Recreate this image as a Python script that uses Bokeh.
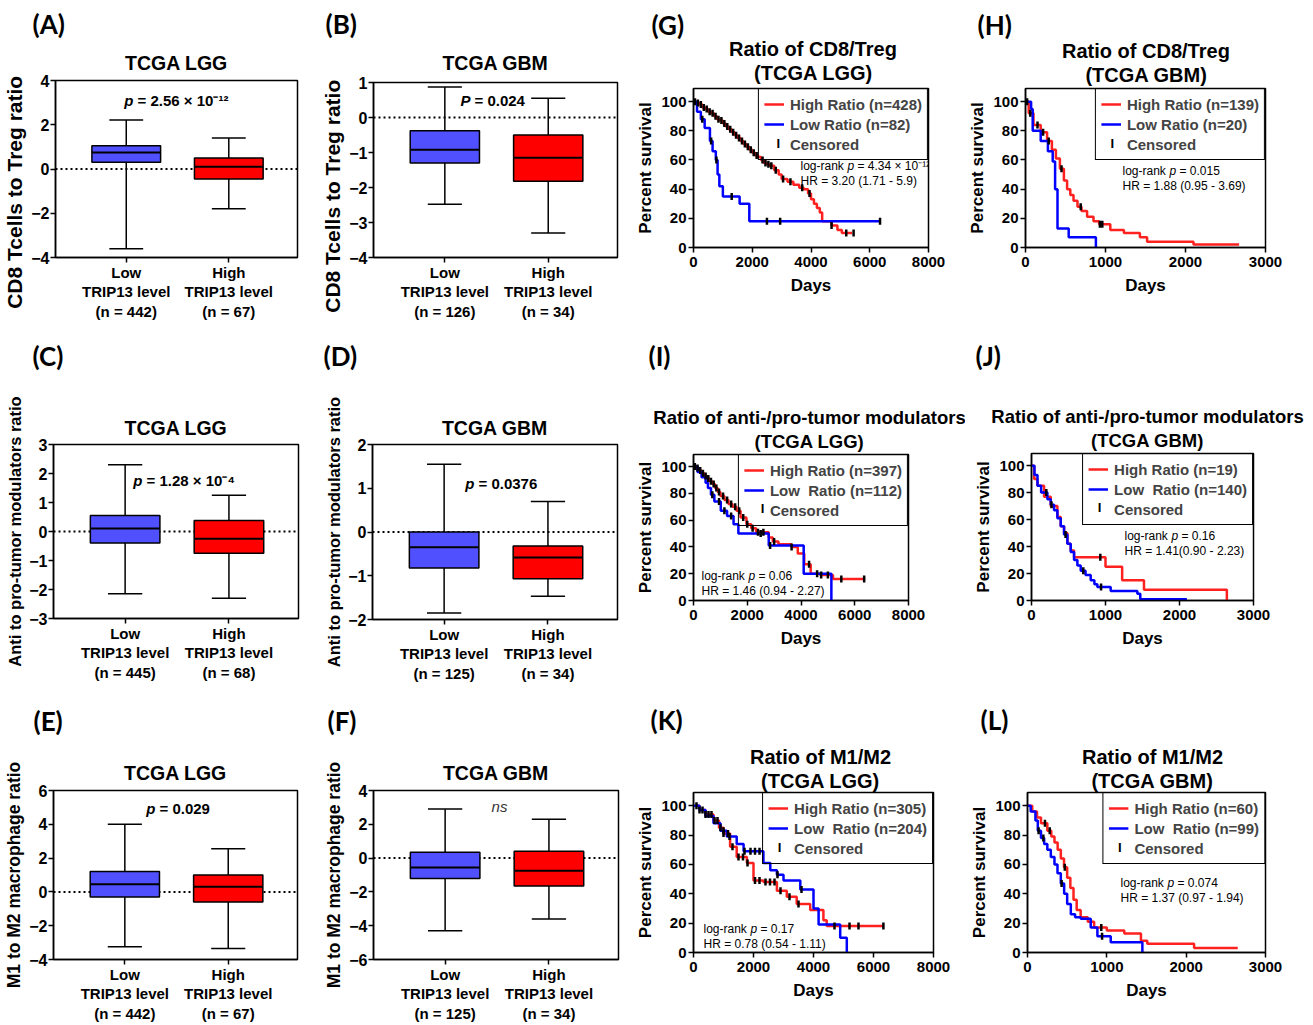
import numpy as np
from bokeh.plotting import figure
from bokeh.models import Range1d, FixedTicker, Span, Label, Legend, LegendItem, Title
from bokeh.layouts import row, column
from bokeh.embed import file_html
from bokeh.resources import INLINE

# ---------------- box-plot data: [lower whisker, Q1, median, Q3, upper whisker] ----------------
group_labels = ["Low", "High"]

A_low = [-3.60, 0.30, 0.75, 1.05, 2.22]
A_high = [-1.80, -0.45, 0.10, 0.50, 1.40]
A_n = [442, 67]
A_yticks = [-4, -2, 0, 2, 4]

B_low = [-2.48, -1.30, -0.92, -0.38, 0.87]
B_high = [-3.30, -1.82, -1.15, -0.50, 0.55]
B_n = [126, 34]
B_yticks = [-4, -3, -2, -1, 0, 1]

C_low = [-2.15, -0.40, 0.10, 0.55, 2.30]
C_high = [-2.30, -0.75, -0.25, 0.38, 1.25]
C_n = [445, 68]
C_yticks = [-3, -2, -1, 0, 1, 2, 3]

D_low = [-1.85, -0.82, -0.35, 0.00, 1.55]
D_high = [-1.47, -1.07, -0.58, -0.32, 0.70]
D_n = [125, 34]
D_yticks = [-2, -1, 0, 1, 2]

E_low = [-3.25, -0.30, 0.45, 1.20, 4.00]
E_high = [-3.35, -0.60, 0.30, 1.00, 2.55]
E_n = [442, 67]
E_yticks = [-4, -2, 0, 2, 4, 6]

F_low = [-4.30, -1.20, -0.55, 0.35, 2.90]
F_high = [-3.60, -1.65, -0.75, 0.40, 2.30]
F_n = [125, 34]
F_yticks = [-6, -4, -2, 0, 2, 4]

# ---------------- Kaplan-Meier data (days, percent survival, censored days) ----------------
G_high_t = [0, 100, 200, 300, 400, 500, 600, 700, 800, 900, 1000, 1100, 1200, 1300, 1400, 1500, 1600, 1700, 1800, 1900,
            2000, 2100, 2200, 2300, 2400, 2500, 2600, 2750, 2900, 3000, 3200, 3400, 3600, 3750, 3900, 4000, 4100, 4200,
            4300, 4380, 4700, 4900, 5050, 5400]
G_high_s = [100, 99, 98, 96, 95, 93, 92, 90, 88, 87, 85, 83, 81, 79, 77, 75, 73, 71, 69, 67,
            65, 63, 62, 60, 58, 57, 56, 53, 50, 47, 45, 43, 41, 40, 37, 33, 30, 27,
            24, 18, 15, 12, 10, 10]
G_high_c = [50, 150, 250, 350, 450, 550, 650, 750, 850, 950, 1050, 1150, 1250, 1350, 1450, 1550, 1650, 1750, 1850,
            1950, 2050, 2150, 2350, 2450, 2550, 2650, 2800, 3050, 3300, 3700, 3950, 4700, 5200, 5450]
G_low_t = [0, 120, 250, 380, 560, 650, 760, 820, 880, 1000, 1570, 1900, 6350]
G_low_s = [100, 93, 88, 82, 73, 66, 60, 50, 42, 35, 30, 18, 18]
G_low_c = [300, 600, 780, 1300, 2500, 2950, 6350]
G_n = [428, 82]

H_high_t = [0, 40, 100, 190, 270, 330, 380, 430, 480, 520, 560, 600, 650, 700, 770, 850, 920, 1060, 1230, 1430,
            1520, 2100, 2670]
H_high_s = [100, 92, 84, 79, 73, 67, 61, 54, 46, 40, 36, 32, 28, 25, 21, 18, 16, 12, 10, 7, 4, 2, 2]
H_high_c = [20, 60, 150, 220, 290, 450, 690, 930, 960]
H_low_t = [0, 70, 90, 190, 280, 340, 370, 400, 540, 880]
H_low_s = [100, 95, 80, 73, 66, 59, 40, 13, 7, 0]
H_low_c = []
H_n = [139, 20]

I_high_t = [0, 100, 200, 300, 400, 500, 600, 700, 800, 900, 1000, 1150, 1300, 1450, 1600, 1750, 1970, 2150, 2330,
            2800, 2950, 3160, 3640, 3880, 4120, 4360, 4716, 5190, 6390]
I_high_s = [100, 99, 97, 95, 93, 91, 89, 87, 84, 81, 78, 75, 72, 70, 67, 62, 57, 54, 51,
            47, 44, 42, 40, 35, 27, 20, 19, 16, 16]
I_high_c = [50, 150, 250, 350, 450, 550, 650, 750, 850, 950, 1100, 1250, 1400, 1550, 1700, 1850, 2000, 2200, 2400,
            2600, 3000, 3650, 4300, 4750, 5000, 5500, 6350]
I_low_t = [0, 150, 300, 450, 537, 650, 776, 1015, 1250, 1490, 1670, 2800, 4100, 5130]
I_low_s = [100, 96, 92, 88, 84, 79, 74, 67, 63, 57, 50, 41, 20, 0]
I_low_c = [700, 950, 1150, 1400, 2500, 2850, 4600]
I_n = [397, 112]

J_high_t = [0, 36, 81, 170, 260, 350, 395, 440, 485, 530, 575, 1000, 1225, 1520, 2640]
J_high_s = [100, 90, 85, 77, 70, 62, 55, 50, 42, 37, 32, 25, 15, 8, 0]
J_high_c = [930]
J_low_t = [0, 40, 81, 130, 215, 260, 305, 350, 395, 440, 485, 530, 575, 620, 665, 730, 800, 850, 890, 1070,
           1430, 1470, 2100]
J_low_s = [100, 93, 85, 80, 75, 71, 67, 61, 55, 49, 42, 36, 30, 26, 22, 19, 15, 12, 10, 7, 5, 1, 1]
J_low_c = [200, 270, 460, 700, 940]
J_n = [19, 140]

K_high_t = [0, 200, 400, 667, 850, 1000, 1220, 1440, 1780, 2000, 2330, 2780, 3110, 3440, 3890, 4330, 4440, 6330]
K_high_s = [100, 97, 94, 90, 85, 81, 72, 65, 61, 49, 48, 42, 38, 33, 29, 22, 18, 18]
K_high_c = [100, 200, 300, 400, 500, 600, 700, 800, 900, 1000, 1150, 1300, 1500, 1650, 1800, 2050, 2200, 2400,
            2550, 2700, 2900, 3200, 3500, 4700, 5200, 5500, 6330]
K_low_t = [0, 200, 400, 667, 900, 1110, 1440, 1670, 2330, 2560, 2780, 3000, 3560, 4000, 4170, 4890, 5110]
K_low_s = [100, 97, 93, 88, 83, 79, 74, 69, 61, 56, 53, 49, 43, 30, 19, 10, 0]
K_low_c = [1000, 1200, 1700, 1900, 2050, 2200, 2800, 3600]
K_n = [305, 204]

L_high_t = [0, 60, 120, 170, 250, 300, 340, 380, 420, 460, 500, 540, 580, 620, 670, 760, 840, 1000, 1220, 1430,
            1510, 2100, 2650]
L_high_s = [100, 96, 92, 88, 83, 79, 75, 70, 64, 58, 51, 44, 36, 29, 24, 21, 17, 15, 13, 8, 6, 3, 3]
L_high_c = [220, 280, 470, 930]
L_low_t = [0, 40, 100, 130, 170, 210, 250, 294, 340, 378, 420, 462, 500, 546, 600, 671, 797, 881, 1049, 1448]
L_low_s = [100, 96, 90, 83, 78, 74, 70, 65, 60, 54, 47, 40, 33, 26, 24, 23, 17, 11, 7, 0]
L_low_c = [140, 200, 430, 940]
L_n = [60, 99]

km_yticks = [0, 20, 40, 60, 80, 100]
lgg_xticks = [0, 2000, 4000, 6000, 8000]
gbm_xticks = [0, 1000, 2000, 3000]

# ---------------- styling / layout ----------------
FONT = "Liberation Sans"
LETTER_FONT = "Lato"
BOX_COLORS = ["#5050ff", "#ff0000"]
KM_RED = "#ff2020"
KM_BLUE = "#0000ff"
NBSP = "\u00a0"

COL_X = [0, 318, 633, 965]
COL_W = [318, 315, 332, 347]
ROW_Y = [0, 340, 690]
ROW_H = [340, 350, 334]

LSZ = 26         # panel letter font px
FH = 1.117       # Liberation Sans box height / em
LFH = 1.2        # Lato box height / em

# Arial/Liberation Sans Bold advance widths (1/1000 em), used only for placing text
BOLD_W = {" ": 278, "(": 333, ")": 333, "=": 584, "H": 722, "i": 278, "g": 611, "h": 611, "R": 722,
          "a": 556, "t": 333, "o": 611, "n": 611, "L": 611, "w": 778, "C": 722, "e": 556, "s": 556,
          "r": 389, "d": 611, "M": 833, "/": 278, "T": 611, "G": 778, "B": 722, "A": 722, "f": 333,
          "D": 722, "-": 333, "p": 611, "u": 611, "m": 889, "l": 278, "c": 556}
LEG_FS, LEG_PAD, LEG_GW, LEG_STAND, LEG_ROW = 15, 5, 20, 6, 20


def bold_width(text, size):
    return sum(BOLD_W.get(ch, 556) for ch in text) * size / 1000.0


def make_fig(rw, cl, frame_page, x_range, y_range):
    left, right, top, bottom = frame_page
    w, h = COL_W[cl], ROW_H[rw]
    L = left - COL_X[cl]
    R = COL_X[cl] + w - right
    T = top - ROW_Y[rw]
    B = ROW_Y[rw] + h - bottom
    p = figure(width=w, height=h, x_range=x_range, y_range=y_range,
               output_backend="svg", toolbar_location=None,
               min_border_left=L, min_border_right=R, min_border_top=T, min_border_bottom=B)
    p.xgrid.visible = False
    p.ygrid.visible = False
    p.outline_line_color = "black"
    p.outline_line_width = 1.5
    p.outline_line_alpha = 1
    p.background_fill_color = "white"
    p.border_fill_color = "white"
    for ax in (p.xaxis[0], p.yaxis[0]):
        ax.axis_line_width = 1.5
        ax.axis_line_color = "black"
        ax.major_tick_line_width = 1.5
        ax.major_tick_line_color = "black"
        ax.major_tick_out = 5
        ax.major_tick_in = 0
        ax.minor_tick_line_color = None
        ax.major_label_text_font = FONT
        ax.major_label_text_font_style = "bold"
        ax.major_label_text_font_size = "15px"
        ax.major_label_text_color = "black"
        ax.major_label_standoff = 2
        ax.axis_label_text_font = FONT
        ax.axis_label_text_font_style = "bold"
        ax.axis_label_text_color = "black"
        ax.axis_label_standoff = 3
    fr = dict(left=left, right=right, top=top, bottom=bottom, cell_top=ROW_Y[rw])
    return p, fr


def add_titles(p, fr, items, ts, letter, lx, ly, cx=None):
    """items: (text, visual centre y on the page) listed from the frame outward."""
    cursor = fr["top"]
    made = []
    for text, cy in items:
        b = cy + 0.57 * ts
        s = 2 * (cursor - b)
        kw = dict(align="center")
        if cx is not None:
            kw = dict(align="left", offset=cx - bold_width(text, ts) / 2 - fr["left"])
        made.append(Title(text=text, text_font=FONT, text_font_size=f"{ts}px",
                          text_font_style="bold", text_color="black", standoff=s, **kw))
        cursor -= 2 + FH * ts + s
    hl = LFH * LSZ
    bl = ly + 0.573 * LSZ
    spacer = 0.0
    final = 2 * bl - cursor - 2 - hl
    if final < fr["cell_top"] + 0.5:
        c_fit = 2 * bl - 2 - hl - fr["cell_top"] - 0.5
        spacer = max(3.2, cursor - c_fit)
        cursor -= spacer
    s_l = 2 * (cursor - bl)
    # the plot's own title is drawn outermost: it carries the panel letter
    p.title.text = letter
    p.title.align = "left"
    p.title.offset = lx - fr["left"]
    p.title.text_font = LETTER_FONT
    p.title.text_font_size = f"{LSZ}px"
    p.title.text_font_style = "bold"
    p.title.text_color = "black"
    p.title.standoff = s_l
    # extra "above" panels stack outward from the frame in list order
    for t in made:
        p.add_layout(t, "above")
    if spacer > 0:
        p.add_layout(Title(text=" ", text_font_size="1px", standoff=spacer - 3.1), "above")


def inner_label(p, fr, xp, yp, text, size, style="bold", align="left", color="black"):
    p.add_layout(Label(x=xp - fr["left"], y=fr["bottom"] - yp, x_units="screen", y_units="screen",
                       text=text, text_font=FONT, text_font_size=size, text_font_style=style,
                       text_align=align, text_baseline="middle", text_color=color))


def box_panel(rw, cl, frame_page, low, high, n, yticks, ylabel, ylab_size, ylab_pad,
              letter, letter_xy, title, title_cy, ptext):
    p, fr = make_fig(rw, cl, frame_page, Range1d(0.31, 2.67), Range1d(yticks[0], yticks[-1]))
    p.yaxis.ticker = FixedTicker(ticks=yticks)
    p.yaxis.major_label_text_font_size = "16px"
    p.yaxis.major_label_standoff = 1
    p.xaxis.ticker = FixedTicker(ticks=[1, 2])
    p.xaxis.major_label_overrides = {
        1: f"{group_labels[0]}\nTRIP13 level\n(n = {n[0]})",
        2: f"{group_labels[1]}\nTRIP13 level\n(n = {n[1]})",
    }
    p.xaxis.major_label_standoff = 1
    p.xaxis.major_label_text_line_height = 1.15
    # trailing no-break spaces push the visible label down, as in the original
    p.yaxis.axis_label = ylabel + NBSP * ylab_pad
    p.yaxis.axis_label_text_font_size = ylab_size
    p.yaxis.axis_label_standoff = 2

    zero = Span(location=0, dimension="width", line_color="black", line_width=2, line_dash="2 3")
    zero.level = "underlay"
    p.add_layout(zero)

    xs = [1, 2]
    stats = [low, high]
    lo = [s[0] for s in stats]
    q1 = [s[1] for s in stats]
    med = [s[2] for s in stats]
    q3 = [s[3] for s in stats]
    hi = [s[4] for s in stats]
    bw, cw = 0.67, 0.33
    p.segment(x0=xs, y0=lo, x1=xs, y1=hi, line_color="black", line_width=1.5)
    p.segment(x0=[x - cw / 2 for x in xs], y0=lo, x1=[x + cw / 2 for x in xs], y1=lo,
              line_color="black", line_width=1.5)
    p.segment(x0=[x - cw / 2 for x in xs], y0=hi, x1=[x + cw / 2 for x in xs], y1=hi,
              line_color="black", line_width=1.5)
    p.vbar(x=xs, width=bw, bottom=q1, top=q3, fill_color=BOX_COLORS, line_color="black", line_width=1.5)
    p.segment(x0=[x - bw / 2 for x in xs], y0=med, x1=[x + bw / 2 for x in xs], y1=med,
              line_color="black", line_width=2)

    add_titles(p, fr, [(title, title_cy)], 19.5, letter, letter_xy[0], letter_xy[1])
    kind, sym, rest, ax_, ay_ = ptext
    if kind == "p":
        inner_label(p, fr, ax_, ay_, sym, "15px", style="bold italic", align="right")
        inner_label(p, fr, ax_ + 4, ay_, rest, "15px", style="bold", align="left")
    else:
        inner_label(p, fr, ax_, ay_, sym, "15px", style="italic", align="center", color="#333333")
    return p


def surv_at(t, s, c):
    if len(c) == 0:
        return []
    idx = np.searchsorted(np.asarray(t), np.asarray(c), side="right") - 1
    return list(np.asarray(s)[idx])


def km_panel(rw, cl, frame_page, hi_t, hi_s, hi_c, lo_t, lo_s, lo_c, n, low_label, xmax, xticks,
             letter, letter_xy, title1, title2, title2_cy, title_cx, ts, pval, hr, stat_xy):
    p, fr = make_fig(rw, cl, frame_page, Range1d(0, xmax), Range1d(0, 109))
    p.yaxis.ticker = FixedTicker(ticks=km_yticks)
    p.xaxis.ticker = FixedTicker(ticks=xticks)
    p.yaxis.axis_label = "Percent survival"
    p.yaxis.axis_label_text_font_size = "17px"
    p.xaxis.axis_label = "Days"
    p.xaxis.axis_label_text_font_size = "17px"
    p.xaxis.major_label_standoff = 4
    p.xaxis.axis_label_standoff = 6

    r_hi = p.step(hi_t, hi_s, mode="after", line_color=KM_RED, line_width=2.5)
    r_lo = p.step(lo_t, lo_s, mode="after", line_color=KM_BLUE, line_width=2.5)
    cx = list(hi_c) + list(lo_c)
    cy = surv_at(hi_t, hi_s, hi_c) + surv_at(lo_t, lo_s, lo_c)
    p.scatter(cx, cy, marker="dash", angle=np.pi / 2, size=7, line_color="black", line_width=2.5)
    r_cens_key = p.scatter([], [], marker="dash", line_alpha=0, fill_alpha=0)

    labels = [f"High Ratio (n={n[0]})", f"{low_label} (n={n[1]})", "Censored"]
    legend = Legend(items=[LegendItem(label=labels[0], renderers=[r_hi]),
                           LegendItem(label=labels[1], renderers=[r_lo]),
                           LegendItem(label=labels[2], renderers=[r_cens_key])],
                    location="top_right", margin=0, padding=LEG_PAD, spacing=0,
                    label_height=LEG_ROW, glyph_height=LEG_ROW, glyph_width=LEG_GW, label_standoff=LEG_STAND,
                    border_line_color="black", border_line_width=1.5, border_line_alpha=1,
                    label_text_font=FONT, label_text_font_size=f"{LEG_FS}px", label_text_font_style="bold",
                    background_fill_alpha=0)
    p.add_layout(legend)
    # censor key: a vertical tick in the legend's glyph column, third row
    leg_w = 2 * LEG_PAD + LEG_GW + LEG_STAND + max(bold_width(t, LEG_FS) for t in labels)
    key_x = fr["right"] - leg_w + LEG_PAD + LEG_GW / 2
    key_y = fr["top"] + LEG_PAD + 2.5 * LEG_ROW
    inner_label(p, fr, key_x, key_y, "I", "13px", style="bold", align="center")

    add_titles(p, fr, [(title2, title2_cy), (title1, title2_cy - 24)], ts, letter, letter_xy[0], letter_xy[1],
               cx=title_cx)
    sx, sy = stat_xy
    inner_label(p, fr, sx, sy, "log-rank", "12px", style="normal")
    inner_label(p, fr, sx + 47, sy, "p", "12px", style="italic")
    inner_label(p, fr, sx + 57, sy, pval, "12px", style="normal")
    inner_label(p, fr, sx, sy + 15, hr, "12px", style="normal")
    return p


pA = box_panel(0, 0, (53, 297, 80, 257), A_low, A_high, A_n, A_yticks, "CD8 Tcells to Treg ratio", "21px", 8,
               "(A)", (30, 25), "TCGA LGG", 62, ("p", "p", "= 2.56 × 10⁻¹²", 131, 100))
pB = box_panel(0, 1, (373, 617, 82, 257), B_low, B_high, B_n, B_yticks, "CD8 Tcells to Treg ratio", "21px", 9,
               "(B)", (325, 25), "TCGA GBM", 62, ("p", "P", "= 0.024", 470, 100))
pC = box_panel(1, 0, (53, 298, 444, 618), C_low, C_high, C_n, C_yticks, "Anti to pro-tumor modulators ratio",
               "16.5px", 0, "(C)", (32, 357), "TCGA LGG", 427, ("p", "p", "= 1.28 × 10⁻⁴", 142, 480))
pD = box_panel(1, 1, (372, 617, 444, 619), D_low, D_high, D_n, D_yticks, "Anti to pro-tumor modulators ratio",
               "16.5px", 0, "(D)", (323, 357), "TCGA GBM", 427, ("p", "p", "= 0.0376", 474, 483))
pE = box_panel(2, 0, (53, 297, 790, 963), E_low, E_high, E_n, E_yticks, "M1 to M2 macrophage ratio", "17.5px", 0,
               "(E)", (33, 722), "TCGA LGG", 772, ("p", "p", "= 0.029", 155, 812))
pF = box_panel(2, 1, (373, 618, 790, 963), F_low, F_high, F_n, F_yticks, "M1 to M2 macrophage ratio", "17.5px", 0,
               "(F)", (327, 722), "TCGA GBM", 772, ("ns", "ns", "", 499, 810))

pG = km_panel(0, 2, (690, 928, 88, 247), G_high_t, G_high_s, G_high_c, G_low_t, G_low_s, G_low_c, G_n,
              "Low Ratio", 8000, lgg_xticks, "(G)", (648, 25), "Ratio of CD8/Treg", "(TCGA LGG)", 72, 810, 20,
              "= 4.34 × 10⁻¹²", "HR = 3.20 (1.71 - 5.9)", (797, 165))
pH = km_panel(0, 3, (1025, 1265, 88, 247), H_high_t, H_high_s, H_high_c, H_low_t, H_low_s, H_low_c, H_n,
              "Low Ratio", 3000, gbm_xticks, "(H)", (977, 25), "Ratio of CD8/Treg", "(TCGA GBM)", 74, 1146, 20,
              "= 0.015", "HR = 1.88 (0.95 - 3.69)", (1122, 170))
pI = km_panel(1, 2, (685, 908, 453, 600), I_high_t, I_high_s, I_high_c, I_low_t, I_low_s, I_low_c, I_n,
              "Low  Ratio", 8000, lgg_xticks, "(I)", (640, 357), "Ratio of anti-/pro-tumor modulators",
              "(TCGA LGG)", 440, 801, 18.5, "= 0.06", "HR = 1.46 (0.94 - 2.27)", (693, 575))
pJ = km_panel(1, 3, (1031, 1253, 452, 600), J_high_t, J_high_s, J_high_c, J_low_t, J_low_s, J_low_c, J_n,
              "Low  Ratio", 3000, gbm_xticks, "(J)", (975, 357), "Ratio of anti-/pro-tumor modulators",
              "(TCGA GBM)", 439, 1147, 18.5, "= 0.16", "HR = 1.41(0.90 - 2.23)", (1124, 535))
pK = km_panel(2, 2, (693, 933, 792, 952), K_high_t, K_high_s, K_high_c, K_low_t, K_low_s, K_low_c, K_n,
              "Low  Ratio", 8000, lgg_xticks, "(K)", (650, 720), "Ratio of M1/M2", "(TCGA LGG)", 780, 820, 20,
              "= 0.17", "HR = 0.78 (0.54 - 1.11)", (703, 928))
pL = km_panel(2, 3, (1027, 1265, 792, 952), L_high_t, L_high_s, L_high_c, L_low_t, L_low_s, L_low_c, L_n,
              "Low  Ratio", 3000, gbm_xticks, "(L)", (980, 720), "Ratio of M1/M2", "(TCGA GBM)", 780, 1152, 20,
              "= 0.074", "HR = 1.37 (0.97 - 1.94)", (1120, 882))

# each figure sits in its own box so that neighbouring frames are not aligned to one another
cells = [[pA, pB, pG, pH], [pC, pD, pI, pJ], [pE, pF, pK, pL]]
layout = column(*[row(*[column(f) for f in r]) for r in cells])

open("out.html", "w").write(file_html(layout, INLINE))
